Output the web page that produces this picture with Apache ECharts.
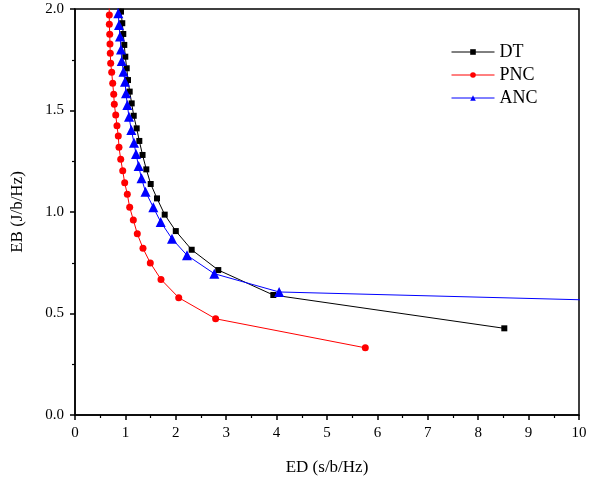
<!DOCTYPE html>
<html>
<head>
<meta charset="utf-8">
<script src="https://cdn.jsdelivr.net/npm/echarts@6/dist/echarts.min.js"></script>
<style>
  html, body { margin: 0; padding: 0; background: #fff; }
  #chart { width: 603px; height: 481px; }
</style>
</head>
<body>
<div id="chart"></div>
<script>
// 数据：ED (x) 与 EB (y)
var dtED  = [0.90, 0.913, 0.938, 0.958, 0.978, 0.998, 1.026, 1.052, 1.085, 1.125, 1.165, 1.224, 1.276, 1.34, 1.415, 1.502, 1.627, 1.78, 2.00, 2.315, 2.843, 3.935, 8.518];
var dtEB  = [2.04, 1.987, 1.930, 1.877, 1.823, 1.765, 1.708, 1.650, 1.593, 1.535, 1.474, 1.412, 1.350, 1.281, 1.210, 1.138, 1.067, 0.987, 0.906, 0.814, 0.714, 0.591, 0.427];

var pncED = [0.678, 0.681, 0.681, 0.689, 0.694, 0.700, 0.708, 0.728, 0.748, 0.768, 0.780, 0.808, 0.833, 0.859, 0.873, 0.907, 0.947, 0.986, 1.038, 1.085, 1.157, 1.236, 1.349, 1.494, 1.706, 2.058, 2.79, 5.76];
var pncEB = [2.02, 1.970, 1.925, 1.876, 1.828, 1.782, 1.733, 1.688, 1.634, 1.580, 1.531, 1.478, 1.425, 1.374, 1.319, 1.260, 1.203, 1.144, 1.087, 1.023, 0.961, 0.893, 0.821, 0.749, 0.668, 0.578, 0.474, 0.331];

var ancED = [0.845, 0.859, 0.873, 0.893, 0.913, 0.927, 0.962, 0.992, 1.012, 1.038, 1.071, 1.117, 1.171, 1.210, 1.262, 1.319, 1.399, 1.554, 1.700, 1.925, 2.222, 2.764, 4.050, 12.0];
var ancEB = [2.04, 1.979, 1.921, 1.864, 1.801, 1.744, 1.691, 1.642, 1.585, 1.527, 1.469, 1.404, 1.341, 1.286, 1.227, 1.166, 1.100, 1.023, 0.951, 0.868, 0.787, 0.696, 0.606, 0.555];

var xTicks = [0, 1, 2, 3, 4, 5, 6, 7, 8, 9, 10];
var yTicks = [0.0, 0.5, 1.0, 1.5, 2.0];

function pairs(xs, ys) {
    var out = [];
    for (var i = 0; i < xs.length; i++) out.push([xs[i], ys[i]]);
    return out;
}

var font = '"Liberation Serif", "Times New Roman", serif';

var myChart = echarts.init(document.getElementById('chart'));
var option = {
    animation: false,
    grid: {
        left: 75, right: 24, top: 9, bottom: 66,
        show: true, borderColor: '#000', borderWidth: 1.5
    },
    legend: {
        orient: 'vertical',
        left: 446, top: 38,
        itemWidth: 43, itemHeight: 7,
        itemGap: 5,
        lineStyle: { width: 1 },
        textStyle: { fontFamily: font, fontSize: 18, color: '#000' },
        data: ['DT', 'PNC', 'ANC']
    },
    xAxis: {
        type: 'value',
        min: xTicks[0], max: xTicks[xTicks.length - 1], interval: 1,
        name: 'ED (s/b/Hz)', nameLocation: 'middle', nameGap: 44,
        nameTextStyle: { fontFamily: font, fontSize: 17, color: '#000' },
        axisLine: { onZero: false, lineStyle: { color: '#000', width: 1.5 } },
        axisTick: { show: true, length: 5, lineStyle: { color: '#000', width: 1.5 } },
        minorTick: { show: true, splitNumber: 2, length: 3, lineStyle: { color: '#000', width: 1.2 } },
        axisLabel: { fontFamily: font, fontSize: 15, color: '#000', margin: 11 },
        splitLine: { show: false }
    },
    yAxis: {
        type: 'value',
        min: yTicks[0], max: yTicks[yTicks.length - 1], interval: 0.5,
        name: 'EB (J/b/Hz)', nameLocation: 'middle', nameGap: 49, nameRotate: 90,
        nameTextStyle: { fontFamily: font, fontSize: 17, color: '#000' },
        axisLine: { onZero: false, lineStyle: { color: '#000', width: 1.5 } },
        axisTick: { show: true, length: 5, lineStyle: { color: '#000', width: 1.5 } },
        minorTick: { show: true, splitNumber: 2, length: 3, lineStyle: { color: '#000', width: 1.2 } },
        axisLabel: {
            fontFamily: font, fontSize: 15, color: '#000', margin: 11,
            formatter: function (v) { return v.toFixed(1); }
        },
        splitLine: { show: false }
    },
    series: [
        {
            name: 'DT', type: 'line', data: pairs(dtED, dtEB),
            symbol: 'rect', symbolSize: 6,
            itemStyle: { color: '#000' },
            lineStyle: { color: '#000', width: 1 }
        },
        {
            name: 'PNC', type: 'line', data: pairs(pncED, pncEB),
            symbol: 'circle', symbolSize: 7,
            itemStyle: { color: '#ff0000' },
            lineStyle: { color: '#ff0000', width: 1 }
        },
        {
            name: 'ANC', type: 'line', data: pairs(ancED, ancEB),
            symbol: 'triangle', symbolSize: 10,
            itemStyle: { color: '#0000ff' },
            lineStyle: { color: '#0000ff', width: 1 }
        }
    ]
};
myChart.setOption(option);
</script>
</body>
</html>
